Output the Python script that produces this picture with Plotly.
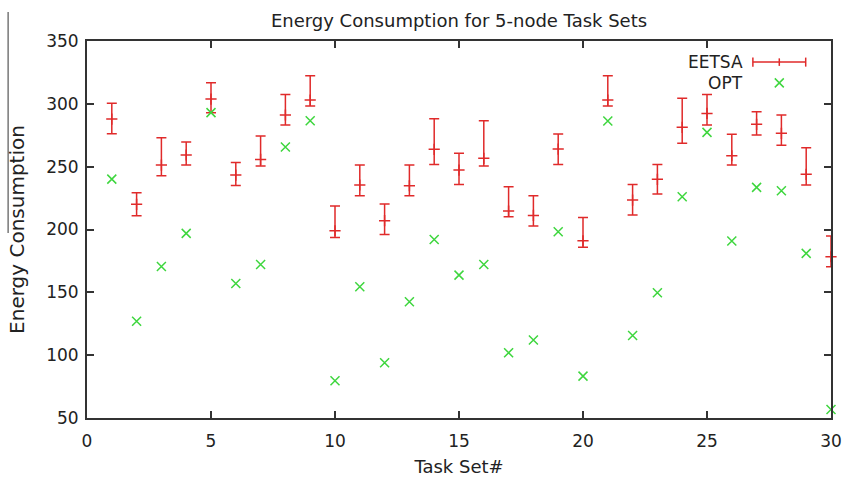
import plotly.graph_objects as go

task_sets = list(range(1, 31))
eetsa_mean = [287.9, 220.0, 251.3, 259.3, 303.8, 243.3, 255.8, 291.1, 303.0, 199.0,
              235.4, 207.0, 234.8, 263.8, 247.3, 256.6, 214.7, 211.2, 264.0, 191.0,
              303.0, 223.4, 239.9, 281.3, 292.4, 258.7, 283.7, 276.5, 243.9, 178.3]
eetsa_high = [300.4, 229.3, 273.0, 269.6, 316.8, 253.4, 274.4, 307.5, 322.4, 218.7,
              251.3, 220.2, 251.3, 288.2, 260.6, 286.6, 234.0, 226.9, 276.0, 209.6,
              322.4, 235.9, 251.8, 304.4, 307.5, 275.7, 293.7, 291.1, 265.1, 194.8]
eetsa_low = [276.2, 211.0, 242.8, 251.3, 293.0, 235.1, 250.5, 283.1, 298.3, 193.7,
             226.9, 196.1, 226.9, 251.8, 235.9, 250.5, 210.2, 202.7, 251.8, 185.8,
             298.3, 211.5, 228.2, 268.6, 283.1, 251.3, 275.2, 267.0, 235.4, 170.4]
opt_values = [240.1, 127.0, 170.6, 196.9, 293.0, 157.1, 172.2, 265.6, 286.6, 79.6,
              154.4, 94.0, 142.5, 192.1, 163.7, 172.2, 101.9, 112.0, 198.2, 83.3,
              286.3, 115.7, 149.6, 226.1, 277.3, 190.8, 233.5, 230.9, 181.0, 56.8]

x_ticks = [0, 5, 10, 15, 20, 25, 30]
y_ticks = [50, 100, 150, 200, 250, 300, 350]

RED = "#e02a2a"
GREEN = "#3ed63e"
FONT = "DejaVu Sans"
TXT = "#222"

err_plus = [h - m for h, m in zip(eetsa_high, eetsa_mean)]
err_minus = [m - l for m, l in zip(eetsa_mean, eetsa_low)]

fig = go.Figure()
fig.add_trace(go.Scatter(
    x=task_sets, y=eetsa_mean, mode="markers", name="EETSA",
    marker=dict(symbol="cross-thin", size=8, line=dict(color=RED, width=1.5), color=RED),
    error_y=dict(type="data", symmetric=False, array=err_plus, arrayminus=err_minus,
                 color=RED, thickness=1.5, width=5),
    showlegend=False, cliponaxis=False,
))
fig.add_trace(go.Scatter(
    x=task_sets, y=opt_values, mode="markers", name="OPT",
    marker=dict(symbol="x-thin", size=9, line=dict(color=GREEN, width=1.5), color=GREEN),
    showlegend=False, cliponaxis=False,
))

# legend drawn gnuplot style: label then sample on the right
LEG_Y1, LEG_Y2 = 0.944, 0.889
fig.add_annotation(xref="paper", yref="paper", x=0.884, y=LEG_Y1, text="EETSA",
                   showarrow=False, xanchor="right", yanchor="middle",
                   font=dict(family=FONT, size=17, color=TXT))
fig.add_annotation(xref="paper", yref="paper", x=0.884, y=LEG_Y2, text="OPT",
                   showarrow=False, xanchor="right", yanchor="middle",
                   font=dict(family=FONT, size=17, color=TXT))
fig.add_shape(type="line", xref="paper", yref="paper", x0=0.895, x1=0.966, y0=LEG_Y1, y1=LEG_Y1,
              line=dict(color=RED, width=1.5))
for xv in (0.895, 0.966):
    fig.add_shape(type="line", xref="paper", yref="paper", x0=xv, x1=xv,
                  y0=LEG_Y1 - 0.012, y1=LEG_Y1 + 0.012, line=dict(color=RED, width=1.5))
fig.add_shape(type="line", xref="paper", yref="paper", x0=0.9305, x1=0.9305,
              y0=LEG_Y1 - 0.01, y1=LEG_Y1 + 0.01, line=dict(color=RED, width=1.5))
fig.add_trace(go.Scatter(
    x=[0.9305], y=[LEG_Y2], xaxis="x2", yaxis="y2", mode="markers", showlegend=False,
    marker=dict(symbol="x-thin", size=9, line=dict(color=GREEN, width=1.5)), hoverinfo="skip",
))

# stray vertical rule at the left edge of the source image
fig.add_shape(type="line", xref="paper", yref="paper", x0=-0.106, x1=-0.106, y0=0.491, y1=1.077,
              line=dict(color="#777", width=1.5))

axis_common = dict(showline=True, linecolor="#333", linewidth=2, mirror="ticks",
                   ticks="inside", ticklen=7, tickwidth=1.5, tickcolor="#333",
                   showgrid=False, zeroline=False, automargin=False,
                   tickfont=dict(family=FONT, size=17, color=TXT))

fig.update_layout(
    width=843, height=477,
    margin=dict(l=87, r=12, t=41, b=59),
    paper_bgcolor="white", plot_bgcolor="white",
    title=dict(text="Energy Consumption for 5-node Task Sets", x=0.5, xanchor="center", xref="paper",
               y=0.956, yanchor="middle", yref="container",
               font=dict(family=FONT, size=18, color=TXT)),
    xaxis=dict(range=[0, 30], tickvals=x_ticks, ticklabelstandoff=7,
               title=dict(text="Task Set#", standoff=13, font=dict(family=FONT, size=18, color=TXT)),
               **axis_common),
    yaxis=dict(range=[50, 350], tickvals=y_ticks, ticklabelstandoff=3,
               title=dict(text="Energy Consumption", standoff=16,
                          font=dict(family=FONT, size=20, color=TXT)),
               **axis_common),
    xaxis2=dict(range=[0, 1], overlaying="x", visible=False, anchor="y2"),
    yaxis2=dict(range=[0, 1], overlaying="y", visible=False, anchor="x2"),
)

fig.write_html("out.html")
